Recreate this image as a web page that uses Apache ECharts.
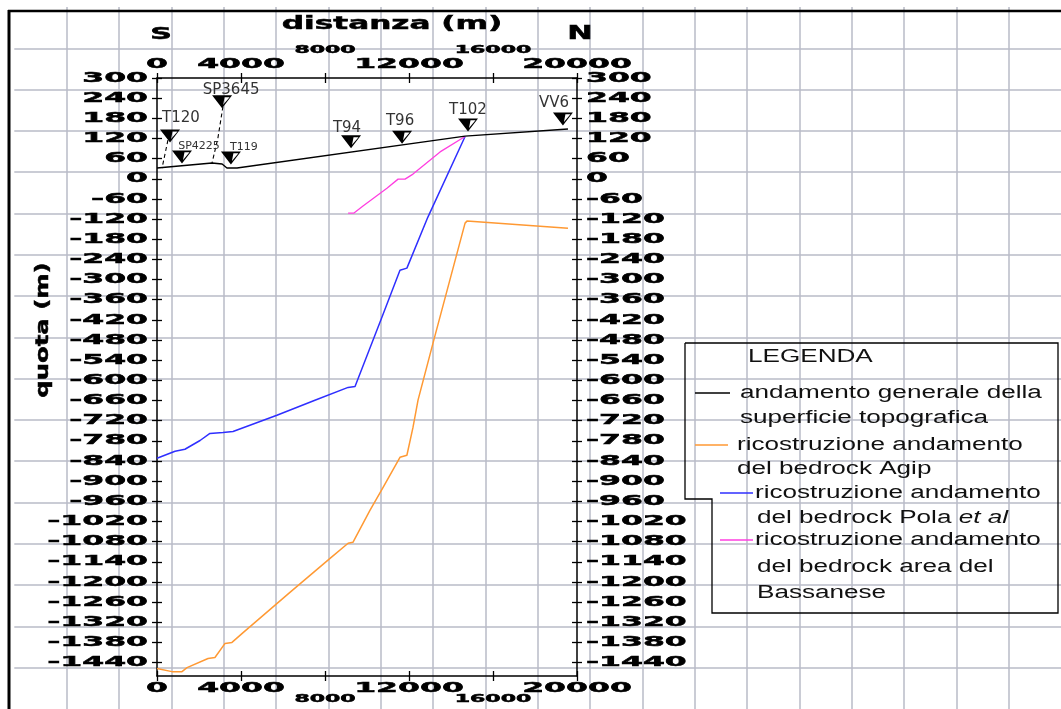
<!DOCTYPE html>
<html>
<head>
<meta charset="utf-8">
<title>Sezione S-N</title>
<script src="https://cdn.jsdelivr.net/npm/echarts@6/dist/echarts.min.js"></script>
<style>
  html, body { margin: 0; padding: 0; background: #fff; }
  #main { width: 1061px; height: 709px; }
</style>
</head>
<body>
<div id="main"></div>
<script>
var topoDist = [0, 2620, 3100, 3330, 3810, 14670, 19570];
var topoQuota = [32, 47, 44, 32, 32, 127, 148];

var agipDist = [0, 710, 1190, 1430, 2430, 2760, 3240, 3570, 4100, 6330, 8240, 9100, 9330, 10140, 10760, 11570, 11900, 12190, 12430, 13140, 14670, 14760, 19570];
var agipQuota = [-1458, -1467, -1467, -1455, -1428, -1425, -1383, -1380, -1351, -1231, -1130, -1085, -1082, -987, -919, -829, -823, -740, -659, -490, -132, -126, -147];

var polaDist = [0, 860, 1330, 2050, 2520, 3140, 3620, 5710, 7520, 9100, 9430, 10710, 11570, 11900, 12900, 14670];
var polaQuota = [-832, -811, -805, -779, -758, -755, -752, -704, -659, -621, -618, -412, -272, -266, -114, 126];

var bassDist = [9100, 9380, 9810, 10950, 11480, 11810, 12190, 13480, 14670];
var bassQuota = [-102, -102, -81, -28, -1, -1, 14, 80, 126];

// pozzi e sondaggi
var wellNames = ['T120', 'SP4225', 'SP3645', 'T119', 'T94', 'T96', 'T102', 'VV6'];
var wellDist = [620, 1190, 3100, 3520, 9240, 11670, 14810, 19330];
var wellQuota = [127, 65, 229, 62, 110, 124, 160, 178];

// tracce tratteggiate dei pozzi
var t120Dist = [520, 240];
var t120Quota = [115, 32];
var sp3645Dist = [3140, 2900, 2620];
var sp3645Quota = [215, 121, 47];

var xTicks = [0, 4000, 8000, 12000, 16000, 20000];
var yTicks = [300, 240, 180, 120, 60, 0, -60, -120, -180, -240, -300, -360, -420, -480, -540,
  -600, -660, -720, -780, -840, -900, -960, -1020, -1080, -1140, -1200, -1260, -1320, -1380, -1440];

var seriesNames = [
  'andamento generale della superficie topografica',
  'ricostruzione andamento del bedrock Agip',
  'ricostruzione andamento del bedrock Pola et al',
  'ricostruzione andamento del bedrock area del Bassanese'
];

function zip(a, b) {
  return a.map(function (v, i) { return [v, b[i]]; });
}

var AXFONT = 'bold 14px "DejaVu Sans"';
var AXSMALL = 'bold 10px "DejaVu Sans"';
var SX = 2.25;
var LEGFONT = '18px "Liberation Sans"';

var labelOffset = {
  T120: [11, -18], SP4225: [17, -11], SP3645: [9, -12], T119: [13, -11],
  T94: [-4, -14], T96: [-2, -16], T102: [0, -15], VV6: [-9, -16]
};
var smallLabel = { SP4225: true, T119: true };

var wellSymbol = 'path://M0,0L20,0L10,13Z M12.5,1.8L11,9.5L17.5,1.8Z';

function axText(x, y, txt, font, sx, align) {
  return {
    type: 'text', x: x, y: y, scaleX: sx,
    style: { text: txt, font: font, fill: '#000', stroke: '#000', lineWidth: 0.5,
      align: align, verticalAlign: 'middle' }
  };
}

function mainX(pos, inside, showLine) {
  return {
    gridIndex: 0, type: 'value', min: 0, max: 20000, interval: 4000, position: pos, z: 3,
    axisLine: { show: showLine, onZero: false, lineStyle: { color: '#000', width: 1.5 } },
    axisTick: { show: true, inside: inside, length: 5, lineStyle: { color: '#000', width: 1.3 } },
    axisLabel: { show: false }, splitLine: { show: false }
  };
}
function mainY(pos, inside, showLine) {
  return {
    gridIndex: 0, type: 'value', min: -1480, max: 300, position: pos, z: 3,
    axisLine: { show: showLine, onZero: false, lineStyle: { color: '#000', width: 1.5 } },
    axisTick: { show: true, inside: inside, length: 5, customValues: yTicks, lineStyle: { color: '#000', width: 1.3 } },
    axisLabel: { show: false }, splitLine: { show: false }
  };
}
var bgLine = { show: true, showMinLine: false, showMaxLine: false, lineStyle: { color: '#b9bbc7', width: 1.5 } };

var chart = echarts.init(document.getElementById('main'));

var option = {
  animation: false,
  backgroundColor: '#fff',
  grid: [
    { left: 157, top: 78, width: 420, height: 598 },
    { left: 14.3, top: 7, width: 1053.4, height: 715.7 }
  ],
  xAxis: [
    mainX('bottom', true, true),
    mainX('top', true, true),
    mainX('bottom', false, false),
    mainX('top', false, false),
    { gridIndex: 1, type: 'value', min: 0, max: 20, interval: 1, z: -1,
      axisLine: { show: false }, axisTick: { show: false }, axisLabel: { show: false }, splitLine: bgLine }
  ],
  yAxis: [
    mainY('left', true, true),
    mainY('right', true, true),
    mainY('left', false, false),
    mainY('right', false, false),
    { gridIndex: 1, type: 'value', min: 0, max: 17, interval: 1, z: -1,
      axisLine: { show: false }, axisTick: { show: false }, axisLabel: { show: false }, splitLine: bgLine }
  ],
  graphic: [
    // cornice
    { type: 'line', z: 20, shape: { x1: 8, y1: 11, x2: 1061, y2: 11 }, style: { stroke: '#000', lineWidth: 2.5 } },
    { type: 'line', z: 20, shape: { x1: 9, y1: 10, x2: 9, y2: 709 }, style: { stroke: '#000', lineWidth: 3 } },
    // titoli
    { type: 'text', x: 392, y: 24, scaleX: 1.73, z: 20,
      style: { text: 'distanza (m)', font: 'bold 18px "DejaVu Sans"', fill: '#000', stroke: '#000', lineWidth: 0.5, align: 'center', verticalAlign: 'middle' } },
    { type: 'text', x: 161, y: 35, scaleX: 2.0, z: 20,
      style: { text: 'S', font: 'bold 15px "DejaVu Sans"', fill: '#000', stroke: '#000', lineWidth: 0.5, align: 'center', verticalAlign: 'middle' } },
    { type: 'text', x: 580, y: 34, scaleX: 1.6, z: 20,
      style: { text: 'N', font: 'bold 19px "DejaVu Sans"', fill: '#000', stroke: '#000', lineWidth: 0.5, align: 'center', verticalAlign: 'middle' } },
    { type: 'text', x: 43, y: 330, rotation: Math.PI / 2, scaleX: 1.35, z: 20,
      style: { text: 'quota (m)', font: 'bold 18px "DejaVu Sans"', fill: '#000', stroke: '#000', lineWidth: 0.5, align: 'center', verticalAlign: 'middle' } },
    // legenda
    { type: 'polyline', z: 20,
      shape: { points: [[685, 343], [1058, 343], [1058, 613], [712, 613], [712, 499], [685, 499], [685, 343]] },
      style: { stroke: '#000', lineWidth: 1.3, fill: null } },
    { type: 'text', x: 748, y: 357, scaleX: 1.45, z: 20,
      style: { text: 'LEGENDA', font: LEGFONT, fill: '#111', align: 'left', verticalAlign: 'middle' } },
    { type: 'line', z: 20, shape: { x1: 695, y1: 393, x2: 730, y2: 393 }, style: { stroke: '#000', lineWidth: 1.3 } },
    { type: 'text', x: 740, y: 393, scaleX: 1.45, z: 20,
      style: { text: 'andamento generale della', font: LEGFONT, fill: '#111', align: 'left', verticalAlign: 'middle' } },
    { type: 'text', x: 740, y: 418, scaleX: 1.45, z: 20,
      style: { text: 'superficie topografica', font: LEGFONT, fill: '#111', align: 'left', verticalAlign: 'middle' } },
    { type: 'line', z: 20, shape: { x1: 695, y1: 445, x2: 728, y2: 445 }, style: { stroke: '#ff9933', lineWidth: 1.3 } },
    { type: 'text', x: 737, y: 445, scaleX: 1.45, z: 20,
      style: { text: 'ricostruzione andamento', font: LEGFONT, fill: '#111', align: 'left', verticalAlign: 'middle' } },
    { type: 'text', x: 737, y: 469, scaleX: 1.45, z: 20,
      style: { text: 'del bedrock Agip', font: LEGFONT, fill: '#111', align: 'left', verticalAlign: 'middle' } },
    { type: 'line', z: 20, shape: { x1: 720, y1: 493, x2: 753, y2: 493 }, style: { stroke: '#2f2fff', lineWidth: 1.3 } },
    { type: 'text', x: 755, y: 493, scaleX: 1.45, z: 20,
      style: { text: 'ricostruzione andamento', font: LEGFONT, fill: '#111', align: 'left', verticalAlign: 'middle' } },
    { type: 'text', x: 757, y: 518, scaleX: 1.45, z: 20,
      style: { text: '{n|del bedrock Pola }{i|et al}', fill: '#111', align: 'left', verticalAlign: 'middle',
        rich: {
          n: { fontSize: 18, fontFamily: 'Liberation Sans', fill: '#111' },
          i: { fontSize: 18, fontFamily: 'Liberation Sans', fontStyle: 'italic', fill: '#111' }
        } } },
    { type: 'line', z: 20, shape: { x1: 720, y1: 540, x2: 753, y2: 540 }, style: { stroke: '#ff3fe0', lineWidth: 1.3 } },
    { type: 'text', x: 755, y: 540, scaleX: 1.45, z: 20,
      style: { text: 'ricostruzione andamento', font: LEGFONT, fill: '#111', align: 'left', verticalAlign: 'middle' } },
    { type: 'text', x: 757, y: 567, scaleX: 1.45, z: 20,
      style: { text: 'del bedrock area del', font: LEGFONT, fill: '#111', align: 'left', verticalAlign: 'middle' } },
    { type: 'text', x: 757, y: 593, scaleX: 1.45, z: 20,
      style: { text: 'Bassanese', font: LEGFONT, fill: '#111', align: 'left', verticalAlign: 'middle' } }
  ],
  series: [
    {
      name: seriesNames[1], type: 'line', xAxisIndex: 0, yAxisIndex: 0,
      data: zip(agipDist, agipQuota), showSymbol: false, symbol: 'none',
      lineStyle: { color: '#ff9933', width: 1.5 }
    },
    {
      name: seriesNames[2], type: 'line', xAxisIndex: 0, yAxisIndex: 0,
      data: zip(polaDist, polaQuota), showSymbol: false, symbol: 'none',
      lineStyle: { color: '#2f2fff', width: 1.5 }
    },
    {
      name: seriesNames[3], type: 'line', xAxisIndex: 0, yAxisIndex: 0,
      data: zip(bassDist, bassQuota), showSymbol: false, symbol: 'none',
      lineStyle: { color: '#ff3fe0', width: 1.3 }
    },
    {
      name: seriesNames[0], type: 'line', xAxisIndex: 0, yAxisIndex: 0,
      data: zip(topoDist, topoQuota), showSymbol: false, symbol: 'none',
      lineStyle: { color: '#000', width: 1.4 }
    },
    {
      name: 'T120 traccia', type: 'line', xAxisIndex: 0, yAxisIndex: 0,
      data: zip(t120Dist, t120Quota), showSymbol: false, symbol: 'none',
      lineStyle: { color: '#000', width: 1.1, type: [4, 3] }
    },
    {
      name: 'SP3645 traccia', type: 'line', xAxisIndex: 0, yAxisIndex: 0,
      data: zip(sp3645Dist, sp3645Quota), showSymbol: false, symbol: 'none',
      lineStyle: { color: '#000', width: 1.1, type: [4, 3] }
    },
    {
      name: 'pozzi', type: 'scatter', xAxisIndex: 0, yAxisIndex: 0,
      symbol: wellSymbol, symbolSize: [20, 13],
      itemStyle: { color: '#000', opacity: 1 },
      data: wellNames.map(function (n, i) {
        return {
          name: n, value: [wellDist[i], wellQuota[i]],
          label: { offset: labelOffset[n], fontSize: smallLabel[n] ? 11 : 15 }
        };
      }),
      label: {
        show: true, position: 'inside', formatter: '{b}',
        fontFamily: 'DejaVu Sans', color: '#333'
      },
      z: 4
    },
    {
      // etichette asse quota (sinistra e destra)
      name: 'quote', type: 'custom', xAxisIndex: 0, yAxisIndex: 0, silent: true, clip: false, z: 5,
      data: yTicks.map(function (v) { return [0, v]; }),
      renderItem: function (params, api) {
        var v = api.value(1);
        var l = api.coord([0, v]);
        var r = api.coord([20000, v]);
        var txt = String(v);
        return {
          type: 'group', children: [
            axText(l[0] - 9, l[1], txt, AXFONT, SX, 'right'),
            axText(r[0] + 9, r[1], txt, AXFONT, SX, 'left')
          ]
        };
      }
    },
    {
      // etichette asse distanza (sopra e sotto)
      name: 'distanze', type: 'custom', xAxisIndex: 0, yAxisIndex: 0, silent: true, clip: false, z: 5,
      data: xTicks.map(function (v) { return [v, 0]; }),
      renderItem: function (params, api) {
        var v = api.value(0);
        var t = api.coord([v, 300]);
        var b = api.coord([v, -1480]);
        var small = params.dataIndex > 0 && params.dataIndex % 2 === 0;
        var font = small ? AXSMALL : AXFONT;
        var sx = small ? 2.2 : SX;
        return {
          type: 'group', children: [
            axText(t[0], t[1] - (small ? 28 : 14), String(v), font, sx, 'center'),
            axText(b[0], b[1] + (small ? 23 : 12), String(v), font, sx, 'center')
          ]
        };
      }
    }
  ]
};

chart.setOption(option);
</script>
</body>
</html>
